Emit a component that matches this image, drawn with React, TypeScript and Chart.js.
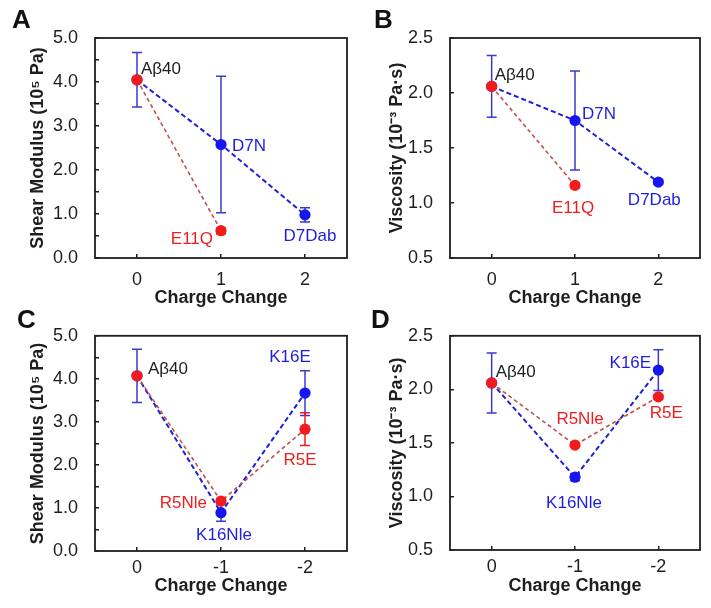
import React, { useEffect, useRef } from 'react';
import { Chart, registerables } from 'chart.js';

Chart.register(...registerables);

const FONT = "'Liberation Sans', Arial, Helvetica, sans-serif";
const INK = '#1e1e1e';
const RED = '#f21c1c';
const RED_LINE = '#c0504d';
const RED_TEXT = '#ee1e1e';
const BLUE = '#1515ee';
const BLUE_LINE = '#1f1fd6';
const BLUE_ERR = '#3a3ad2';
const BLUE_TEXT = '#1e1ee0';

// ---------------- DATA ----------------
// Panel A: shear modulus (10^5 Pa), charge change 0..2
const aXTicks = [0, 1, 2];
const aBlueX = [0, 1, 2];
const aBlueY = [4.05, 2.58, 0.98];
const aBlueErr = [0.62, 1.55, 0.16];
const aBlueNames = ['Aβ40', 'D7N', 'D7Dab'];
const aRedX = [0, 1];
const aRedY = [4.05, 0.62];
const aRedErr = [0, 0.07];
const aRedNames = ['', 'E11Q'];

// Panel B: viscosity (10^-3 Pa·s), charge change 0..2
const bXTicks = [0, 1, 2];
const bBlueX = [0, 1, 2];
const bBlueY = [2.06, 1.75, 1.19];
const bBlueErr = [0.28, 0.45, 0.02];
const bBlueNames = ['Aβ40', 'D7N', 'D7Dab'];
const bRedX = [0, 1];
const bRedY = [2.06, 1.16];
const bRedErr = [0, 0.02];
const bRedNames = ['', 'E11Q'];

// Panel C: shear modulus, charge change 0..-2
const cXTicks = [0, -1, -2];
const cBlueX = [0, -1, -2];
const cBlueY = [4.07, 0.89, 3.67];
const cBlueErr = [0.62, 0.2, 0.52];
const cBlueNames = ['Aβ40', 'K16Nle', 'K16E'];
const cRedX = [0, -1, -2];
const cRedY = [4.07, 1.16, 2.83];
const cRedErr = [0, 0.05, 0.38];
const cRedNames = ['', 'R5Nle', 'R5E'];

// Panel D: viscosity, charge change 0..-2
const dXTicks = [0, -1, -2];
const dBlueX = [0, -1, -2];
const dBlueY = [2.06, 1.18, 2.18];
const dBlueErr = [0.28, 0.03, 0.19];
const dBlueNames = ['Aβ40', 'K16Nle', 'K16E'];
const dRedX = [0, -1, -2];
const dRedY = [2.06, 1.48, 1.93];
const dRedErr = [0, 0.01, 0.02];
const dRedNames = ['', 'R5Nle', 'R5E'];

const modulusTicks = [0, 0.5, 1, 1.5, 2, 2.5, 3, 3.5, 4, 4.5, 5];
const modulusLabelTicks = [0, 1, 2, 3, 4, 5];
const viscosityTicks = [0.5, 1, 1.5, 2, 2.5];
const viscosityLabelTicks = [0.5, 1, 1.5, 2, 2.5];

const modulusTitle = 'Shear Modulus (10⁵ Pa)';
const viscosityTitle = 'Viscosity (10⁻³ Pa·s)';
const xTitle = 'Charge Change';

// ---------------- LAYOUT / STYLE ----------------
type Series = { x: number[]; y: number[]; err: number[]; names: string[] };
type Lbl = { s: 'r' | 'b'; i: number; dx: number; dy: number; align: CanvasTextAlign; c: string };
type Geom = {
  left: number; top: number; w: number; h: number;
  padTop: number; padRight: number; yW: number; xH: number;
  yTitlePad: number; xTitlePad: number; xTickPad: number;
};
type PanelCfg = {
  letter: string; letterX: number; letterY: number;
  geom: Geom;
  red: Series; blue: Series;
  xTicks: number[]; xMin: number; xMax: number; reverse: boolean;
  yMin: number; yMax: number; yTicks: number[]; yLabelTicks: number[]; yTitle: string;
  labels: Lbl[];
};

const panels: PanelCfg[] = [
  {
    letter: 'A', letterX: 12, letterY: 6,
    geom: { left: 0, top: 0, w: 355, h: 312, padTop: 38, padRight: 8, yW: 95, xH: 54, yTitlePad: 27, xTitlePad: 3, xTickPad: 15 },
    red: { x: aRedX, y: aRedY, err: aRedErr, names: aRedNames },
    blue: { x: aBlueX, y: aBlueY, err: aBlueErr, names: aBlueNames },
    xTicks: aXTicks, xMin: -0.5, xMax: 2.5, reverse: false,
    yMin: 0, yMax: 5, yTicks: modulusTicks, yLabelTicks: modulusLabelTicks, yTitle: modulusTitle,
    labels: [
      { s: 'b', i: 0, dx: 4, dy: -10, align: 'left', c: INK },
      { s: 'b', i: 1, dx: 11, dy: 2, align: 'left', c: BLUE_TEXT },
      { s: 'b', i: 2, dx: 5, dy: 21, align: 'center', c: BLUE_TEXT },
      { s: 'r', i: 1, dx: -8, dy: 9, align: 'right', c: RED_TEXT },
    ],
  },
  {
    letter: 'B', letterX: 374, letterY: 6,
    geom: { left: 355, top: 0, w: 356, h: 312, padTop: 38, padRight: 11, yW: 95, xH: 54, yTitlePad: 31, xTitlePad: 3, xTickPad: 15 },
    red: { x: bRedX, y: bRedY, err: bRedErr, names: bRedNames },
    blue: { x: bBlueX, y: bBlueY, err: bBlueErr, names: bBlueNames },
    xTicks: bXTicks, xMin: -0.5, xMax: 2.5, reverse: false,
    yMin: 0.5, yMax: 2.5, yTicks: viscosityTicks, yLabelTicks: viscosityLabelTicks, yTitle: viscosityTitle,
    labels: [
      { s: 'b', i: 0, dx: 3, dy: -11, align: 'left', c: INK },
      { s: 'b', i: 1, dx: 7, dy: -6, align: 'left', c: BLUE_TEXT },
      { s: 'b', i: 2, dx: -4, dy: 18, align: 'center', c: BLUE_TEXT },
      { s: 'r', i: 1, dx: -2, dy: 23, align: 'center', c: RED_TEXT },
    ],
  },
  {
    letter: 'C', letterX: 17, letterY: 306,
    geom: { left: 0, top: 304, w: 355, h: 304, padTop: 27, padRight: 8, yW: 95, xH: 57, yTitlePad: 27, xTitlePad: 11, xTickPad: 10 },
    red: { x: cRedX, y: cRedY, err: cRedErr, names: cRedNames },
    blue: { x: cBlueX, y: cBlueY, err: cBlueErr, names: cBlueNames },
    xTicks: cXTicks, xMin: -2.5, xMax: 0.5, reverse: true,
    yMin: 0, yMax: 5, yTicks: modulusTicks, yLabelTicks: modulusLabelTicks, yTitle: modulusTitle,
    labels: [
      { s: 'b', i: 0, dx: 11, dy: -7, align: 'left', c: INK },
      { s: 'b', i: 1, dx: 3, dy: 23, align: 'center', c: BLUE_TEXT },
      { s: 'b', i: 2, dx: -15, dy: -36, align: 'center', c: BLUE_TEXT },
      { s: 'r', i: 1, dx: -14, dy: 2, align: 'right', c: RED_TEXT },
      { s: 'r', i: 2, dx: -5, dy: 31, align: 'center', c: RED_TEXT },
    ],
  },
  {
    letter: 'D', letterX: 371, letterY: 306,
    geom: { left: 355, top: 304, w: 356, h: 304, padTop: 27, padRight: 11, yW: 95, xH: 58, yTitlePad: 31, xTitlePad: 11, xTickPad: 10 },
    red: { x: dRedX, y: dRedY, err: dRedErr, names: dRedNames },
    blue: { x: dBlueX, y: dBlueY, err: dBlueErr, names: dBlueNames },
    xTicks: dXTicks, xMin: -2.5, xMax: 0.5, reverse: true,
    yMin: 0.5, yMax: 2.5, yTicks: viscosityTicks, yLabelTicks: viscosityLabelTicks, yTitle: viscosityTitle,
    labels: [
      { s: 'b', i: 0, dx: 4, dy: -11, align: 'left', c: INK },
      { s: 'b', i: 1, dx: -1, dy: 26, align: 'center', c: BLUE_TEXT },
      { s: 'b', i: 2, dx: -28, dy: -7, align: 'center', c: BLUE_TEXT },
      { s: 'r', i: 1, dx: 5, dy: -26, align: 'center', c: RED_TEXT },
      { s: 'r', i: 2, dx: 8, dy: 16, align: 'center', c: RED_TEXT },
    ],
  },
];

function buildChart(canvas: HTMLCanvasElement, p: PanelCfg) {
  const g = p.geom;
  const errPlugin = {
    id: 'errbars',
    beforeDatasetsDraw(chart: any) {
      const ctx = chart.ctx;
      const xs = chart.scales.x;
      const ys = chart.scales.y;
      ctx.save();
      ctx.lineWidth = 1.5;
      const drawSeries = (s: Series, color: string) => {
        ctx.strokeStyle = color;
        s.x.forEach((xv, i) => {
          const e = s.err[i];
          if (!e) return;
          const px = xs.getPixelForValue(xv);
          const t = ys.getPixelForValue(s.y[i] + e);
          const b = ys.getPixelForValue(s.y[i] - e);
          ctx.beginPath();
          ctx.moveTo(px, t);
          ctx.lineTo(px, b);
          ctx.moveTo(px - 5, t);
          ctx.lineTo(px + 5, t);
          ctx.moveTo(px - 5, b);
          ctx.lineTo(px + 5, b);
          ctx.stroke();
        });
      };
      drawSeries(p.blue, BLUE_ERR);
      drawSeries(p.red, RED);
      ctx.restore();
    },
  };
  const labelPlugin = {
    id: 'ptlabels',
    afterDatasetsDraw(chart: any) {
      const ctx = chart.ctx;
      ctx.save();
      ctx.font = `17px ${FONT}`;
      ctx.textBaseline = 'middle';
      p.labels.forEach((l) => {
        const s = l.s === 'r' ? p.red : p.blue;
        const px = chart.scales.x.getPixelForValue(s.x[l.i]) + l.dx;
        const py = chart.scales.y.getPixelForValue(s.y[l.i]) + l.dy;
        ctx.fillStyle = l.c;
        ctx.textAlign = l.align;
        ctx.fillText(s.names[l.i], px, py);
      });
      ctx.restore();
    },
  };
  const framePlugin = {
    id: 'frame',
    afterDraw(chart: any) {
      const { left, top, right, bottom } = chart.chartArea;
      const ctx = chart.ctx;
      ctx.save();
      ctx.strokeStyle = INK;
      ctx.lineWidth = 1.8;
      ctx.strokeRect(left, top, right - left, bottom - top);
      ctx.restore();
    },
  };

  const tickFont = { family: FONT, size: 18 };
  const titleFont = { family: FONT, size: 18, weight: 'bold' as const };

  return new Chart(canvas, {
    type: 'scatter',
    data: {
      datasets: [
        {
          data: p.red.x.map((x, i) => ({ x, y: p.red.y[i] })),
          showLine: true,
          borderColor: RED_LINE,
          borderWidth: 1.6,
          borderDash: [4, 3],
          pointBackgroundColor: RED,
          pointBorderColor: RED,
          pointBorderWidth: 0,
          pointRadius: 5.6,
        },
        {
          data: p.blue.x.map((x, i) => ({ x, y: p.blue.y[i] })),
          showLine: true,
          borderColor: BLUE_LINE,
          borderWidth: 2,
          borderDash: [5, 3],
          pointBackgroundColor: BLUE,
          pointBorderColor: BLUE,
          pointBorderWidth: 0,
          pointRadius: 5.6,
        },
      ],
    },
    options: {
      responsive: false,
      animation: false,
      events: [],
      layout: { padding: { left: 0, right: g.padRight, top: g.padTop, bottom: 0 } },
      plugins: { legend: { display: false }, tooltip: { enabled: false } },
      scales: {
        x: {
          type: 'linear',
          min: p.xMin,
          max: p.xMax,
          reverse: p.reverse,
          afterBuildTicks: (s: any) => {
            s.ticks = p.xTicks.map((v) => ({ value: v }));
          },
          afterFit: (s: any) => {
            s.height = g.xH;
          },
          ticks: {
            autoSkip: false,
            maxRotation: 0,
            padding: g.xTickPad,
            color: INK,
            font: tickFont,
            callback: (v: any) => String(v),
          },
          grid: { drawOnChartArea: false, drawTicks: true, tickLength: -4, color: INK, lineWidth: 1.5 },
          border: { display: false },
          title: {
            display: true,
            text: xTitle,
            color: INK,
            font: titleFont,
            padding: { top: 0, bottom: g.xTitlePad },
          },
        },
        y: {
          type: 'linear',
          min: p.yMin,
          max: p.yMax,
          afterBuildTicks: (s: any) => {
            s.ticks = p.yTicks.map((v) => ({ value: v }));
          },
          afterFit: (s: any) => {
            s.width = g.yW;
          },
          ticks: {
            autoSkip: false,
            padding: 21,
            color: INK,
            font: tickFont,
            callback: (v: any) => (p.yLabelTicks.includes(Number(v)) ? Number(v).toFixed(1) : ''),
          },
          grid: { drawOnChartArea: false, drawTicks: true, tickLength: -4, color: INK, lineWidth: 1.5 },
          border: { display: false },
          title: {
            display: true,
            text: p.yTitle,
            color: INK,
            font: titleFont,
            padding: { top: g.yTitlePad, bottom: 0 },
          },
        },
      },
    },
    plugins: [errPlugin, labelPlugin, framePlugin],
  } as any);
}

function Panel({ cfg }: { cfg: PanelCfg }) {
  const ref = useRef<HTMLCanvasElement | null>(null);
  useEffect(() => {
    if (!ref.current) return;
    const chart = buildChart(ref.current, cfg);
    return () => chart.destroy();
  }, [cfg]);
  const g = cfg.geom;
  return (
    <>
      <canvas
        ref={ref}
        width={g.w}
        height={g.h}
        style={{ position: 'absolute', left: g.left, top: g.top, width: g.w, height: g.h }}
      />
      <div
        style={{
          position: 'absolute',
          left: cfg.letterX,
          top: cfg.letterY,
          font: `bold 26px ${FONT}`,
          lineHeight: '26px',
          color: '#111',
        }}
      >
        {cfg.letter}
      </div>
    </>
  );
}

export default function App() {
  return (
    <div style={{ position: 'absolute', left: 0, top: 0, width: 711, height: 608, background: '#fff', overflow: 'hidden' }}>
      {panels.map((p) => (
        <Panel key={p.letter} cfg={p} />
      ))}
    </div>
  );
}
